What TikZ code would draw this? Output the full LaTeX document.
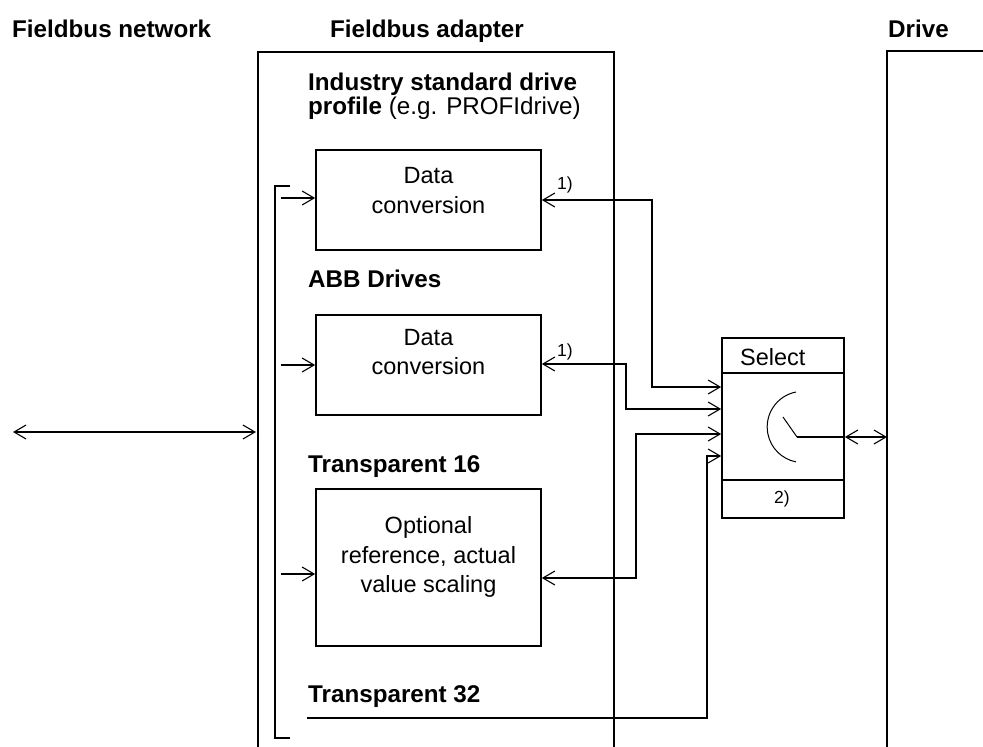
\documentclass[tikz,border=0pt]{standalone}
\usepackage{fontspec}
\setmainfont{Liberation Sans}
\usetikzlibrary{arrows.meta}
\tikzset{
  wire/.style={line width=1.7pt},
  thin wire/.style={line width=1pt},
  tip/.tip={Straight Barb[length=12pt,width=14pt,line width=1.1pt]},
  box/.style={draw,line width=1.7pt,rectangle,minimum width=225pt,inner sep=0pt},
  lbl/.style={anchor=base west,inner sep=0pt,font=\fontsize{24.2}{29}\selectfont\bfseries},
  txt/.style={anchor=base,inner sep=0pt,font=\fontsize{23.5}{28}\selectfont},
  note/.style={inner sep=0pt,font=\fontsize{17.5}{21}\selectfont},
}
\begin{document}
\begin{tikzpicture}[x=1pt,y=-1pt]
\useasboundingbox (0,0) rectangle (983,747);
% headings
\node[lbl] (hnet) at (12,37) {Fieldbus network};
\node[lbl] (hadp) at (330,37) {Fieldbus adapter};
\node[lbl] (hdrv) at (888,37) {Drive};
% adapter and drive walls
\draw[wire] (258,747) |- (614,52) -- (614,747);
\draw[wire] (983,51) -| (887,747);
% inner bracket
\coordinate (bt) at (290,186);
\coordinate (bb) at (290,738);
\draw[wire] (bt) -| (275,738) -- (bb);
% section labels
\node[lbl] (l1a) at (308,90) {Industry standard drive};
\node[lbl,font=\fontsize{24.2}{29}\selectfont] (l1b) at (308,114) {\textbf{profile} (e.g. PROFIdrive)};
\node[lbl] (l2) at (308,287) {ABB Drives};
\node[lbl] (l3) at (308,472) {Transparent 16};
\node[lbl] (l4) at (308,702) {Transparent 32};
% boxes
\node[box,minimum height=100pt] (b1) at (428.5,200) {};
\node[box,minimum height=100pt] (b2) at (428.5,365) {};
\node[box,minimum height=157pt] (b3) at (428.5,567.5) {};
\node[txt] (t1a) at (428.5,183) {Data};
\node[txt] (t1b) at (428.5,213) {conversion};
\node[txt] (t2a) at (428.5,345) {Data};
\node[txt] (t2b) at (428.5,374) {conversion};
\node[txt] (t3a) at (428.5,533) {Optional};
\node[txt] (t3b) at (428.5,563) {reference, actual};
\node[txt] (t3c) at (428.5,592) {value scaling};
\node[note] (n1) at (565,185) {1)};
\node[note] (n2) at (565,352) {1)};
% select block
\node[draw,line width=1.7pt,rectangle,minimum width=122pt,minimum height=180pt,inner sep=0pt] (sel) at (783,428) {};
\coordinate (d1l) at (722,373);
\coordinate (d1r) at (844,373);
\coordinate (d2l) at (722,480);
\coordinate (d2r) at (844,480);
\draw[wire] (d1l) -- (d1r);
\draw[wire] (d2l) -- (d2r);
\node[anchor=base west,inner sep=0pt,font=\fontsize{23.5}{28}\selectfont] (selt) at (740,365) {Select};
\node[note] (n3) at (782,499) {2)};
% switch symbol
\draw[thin wire] (796,392) arc[start angle=-101,end angle=-259,radius=35.6];
\coordinate (lev) at (797,437);
\draw[thin wire] (783,417) -- (lev);
\draw[wire] (lev) -- (sel.east |- lev);
% drive link
\coordinate (dr) at (887,437);
\draw[wire,{tip}-{tip}] (sel.east |- dr) -- (dr);
% network link
\coordinate (netl) at (13,432);
\coordinate (netr) at (256,432);
\draw[wire,{tip}-{tip}] (netl) -- (netr);
% bracket feeds to boxes
\coordinate (f1) at (281,198);
\coordinate (f2) at (281,365);
\coordinate (f3) at (281,574);
\draw[wire,-{tip}] (f1) -- (b1.west |- f1);
\draw[wire,-{tip}] (f2) -- (b2.west |- f2);
\draw[wire,-{tip}] (f3) -- (b3.west |- f3);
% box outputs to select
\draw[wire,{tip}-{tip}] (b1.east |- 0,200) -| (652,387) -- (sel.west |- 0,387);
\draw[wire,{tip}-{tip}] (b2.east |- 0,364) -| (626,409) -- (sel.west |- 0,409);
\draw[wire,{tip}-{tip}] (b3.east |- 0,578) -| (636,434) -- (sel.west |- 0,434);
\coordinate (t32) at (307,718);
\draw[wire,-{tip}] (t32) -| (707,456) -- (sel.west |- 0,456);
\end{tikzpicture}
\end{document}
